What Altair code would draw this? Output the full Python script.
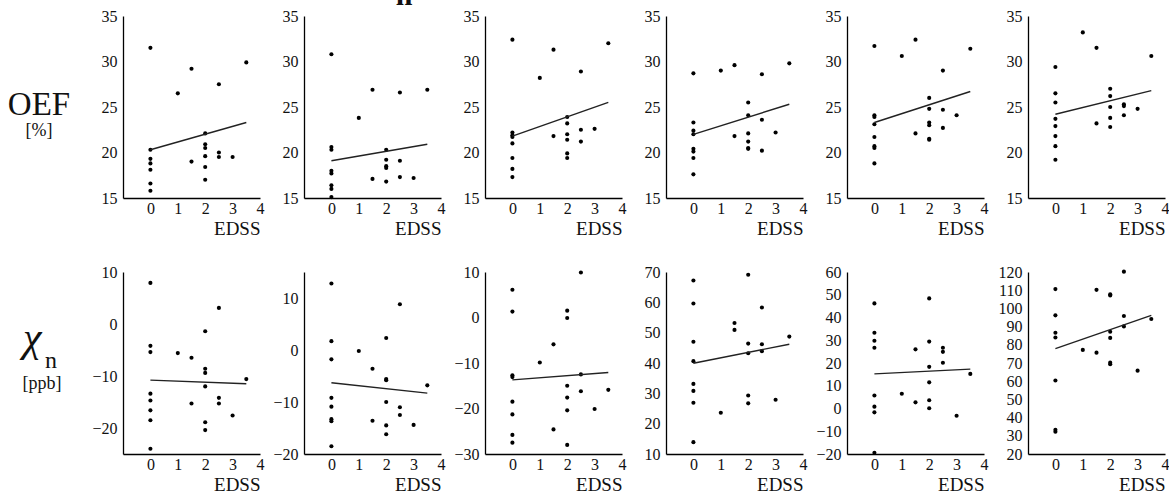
import altair as alt
import pandas as pd

FONT = "Liberation Serif"
X_TITLE = "EDSS"
X_TICKS = [0, 1, 2, 3, 4]
X_DOMAIN = [-1, 4]
FIT_X = [0, 3.5]

ROW_NAMES = ["OEF", "χ"]
ROW_SUBS = ["", "n"]
ROW_UNITS = ["[%]", "[ppb]"]
TOP_FRAGMENT = "n"

# ---- Row 1: OEF [%] ----
oef_x1 = [0, 0, 0, 0, 0, 0, 0, 1, 1.5, 1.5, 2, 2, 2, 2, 2, 2, 2.5, 2.5, 2.5, 3, 3.5]
oef_y1 = [31.5, 20.3, 19.3, 18.8, 18.1, 16.6, 15.8, 26.5, 29.2, 19.0, 22.1, 20.9, 20.5, 19.6, 18.4, 17.0, 27.5, 20.0, 19.5, 19.5, 29.9]
oef_x2 = [0, 0, 0, 0, 0, 0, 0, 0, 1, 1.5, 1.5, 2, 2, 2, 2, 2, 2.5, 2.5, 2.5, 3, 3.5]
oef_y2 = [30.8, 20.6, 20.3, 18.0, 17.7, 16.4, 16.0, 15.1, 23.8, 26.9, 17.1, 20.3, 19.2, 18.5, 18.3, 16.8, 26.6, 19.1, 17.3, 17.2, 26.9]
oef_x3 = [0, 0, 0, 0, 0, 0, 0, 0, 1, 1.5, 1.5, 2, 2, 2, 2, 2, 2, 2.5, 2.5, 2.5, 3, 3.5]
oef_y3 = [32.4, 22.2, 21.9, 21.7, 21.0, 19.4, 18.2, 17.3, 28.2, 31.3, 21.8, 23.9, 23.2, 22.0, 21.4, 19.9, 19.4, 28.9, 22.5, 21.2, 22.6, 32.0]
oef_x4 = [0, 0, 0, 0, 0, 0, 0, 0, 1, 1.5, 1.5, 2, 2, 2, 2, 2, 2, 2.5, 2.5, 2.5, 3, 3.5]
oef_y4 = [28.7, 23.3, 22.4, 22.0, 20.4, 20.1, 19.4, 17.6, 29.0, 29.6, 21.8, 25.5, 24.1, 22.1, 21.2, 20.5, 20.4, 28.6, 23.6, 20.2, 22.2, 29.8]
oef_x5 = [0, 0, 0, 0, 0, 0, 0, 0, 1, 1.5, 1.5, 2, 2, 2, 2, 2, 2, 2.5, 2.5, 2.5, 3, 3.5]
oef_y5 = [31.7, 24.1, 23.9, 23.1, 21.7, 20.7, 20.5, 18.8, 30.6, 32.4, 22.1, 26.0, 24.8, 23.3, 23.0, 21.5, 21.4, 29.0, 24.7, 22.7, 24.1, 31.4]
oef_x6 = [0, 0, 0, 0, 0, 0, 0, 0, 1, 1.5, 1.5, 2, 2, 2, 2, 2, 2.5, 2.5, 2.5, 3, 3.5]
oef_y6 = [29.4, 26.5, 25.5, 23.7, 22.9, 21.8, 20.7, 19.2, 33.2, 31.5, 23.2, 27.0, 26.2, 25.0, 23.8, 22.8, 25.3, 25.1, 24.1, 24.8, 30.6]
oef_fit = [[20.3, 23.3], [19.1, 20.9], [21.8, 25.5], [22.0, 25.3], [23.3, 26.7], [24.2, 26.8]]
oef_domains = [[15, 35]] * 6
oef_ticks = [[15, 20, 25, 30, 35]] * 6

# ---- Row 2: chi_n [ppb] ----
chi_x1 = [0, 0, 0, 0, 0, 0, 0, 0, 1, 1.5, 1.5, 2, 2, 2, 2, 2, 2, 2.5, 2.5, 2.5, 3, 3.5]
chi_y1 = [7.9, -4.2, -5.4, -13.4, -14.7, -16.6, -18.5, -24.0, -5.6, -6.5, -15.3, -1.4, -8.6, -9.4, -12.0, -18.9, -20.4, 3.1, -14.2, -15.3, -17.6, -10.6]
chi_x2 = [0, 0, 0, 0, 0, 0, 0, 0, 1, 1.5, 1.5, 2, 2, 2, 2, 2, 2, 2.5, 2.5, 2.5, 3, 3.5]
chi_y2 = [12.8, 1.7, -1.8, -9.2, -10.9, -13.3, -13.7, -18.5, -0.2, -3.6, -13.6, 2.3, -5.6, -5.8, -10.0, -14.5, -16.2, 8.8, -11.0, -12.5, -14.4, -6.8]
chi_x3 = [0, 0, 0, 0, 0, 0, 0, 0, 1, 1.5, 1.5, 2, 2, 2, 2, 2, 2, 2.5, 2.5, 2.5, 3, 3.5]
chi_y3 = [6.1, 1.3, -12.7, -13.1, -18.5, -21.3, -25.8, -27.5, -9.9, -5.9, -24.6, 1.5, -0.1, -15.0, -17.6, -20.4, -28.0, 9.9, -12.5, -16.2, -20.1, -15.9]
chi_x4 = [0, 0, 0, 0, 0, 0, 0, 0, 1, 1.5, 1.5, 2, 2, 2, 2, 2, 2.5, 2.5, 2.5, 3, 3.5]
chi_y4 = [67.2, 59.6, 47.0, 40.6, 33.1, 30.8, 26.9, 13.9, 23.6, 53.2, 50.9, 69.1, 46.4, 43.2, 29.3, 26.7, 58.3, 46.2, 43.9, 27.9, 48.7]
chi_x5 = [0, 0, 0, 0, 0, 0, 0, 0, 1, 1.5, 1.5, 2, 2, 2, 2, 2, 2, 2.5, 2.5, 2.5, 3, 3.5]
chi_y5 = [46.2, 33.3, 29.8, 26.7, 5.7, 0.8, -1.7, -19.5, 6.5, 26.0, 2.7, 48.4, 29.4, 18.3, 11.5, 3.6, 0.1, 26.7, 24.9, 20.1, -3.2, 15.2]
chi_x6 = [0, 0, 0, 0, 0, 0, 0, 1, 1.5, 1.5, 2, 2, 2, 2, 2, 2, 2.5, 2.5, 2.5, 3, 3.5]
chi_y6 = [110.6, 96.2, 86.6, 84.0, 60.4, 33.3, 32.2, 77.2, 110.2, 75.7, 107.8, 107.1, 87.2, 83.8, 70.2, 69.3, 120.2, 95.8, 90.1, 65.8, 94.2]
chi_fit = [[-10.8, -11.5], [-6.3, -8.3], [-13.7, -12.1], [39.9, 46.2], [15.2, 17.3], [77.9, 96.2]]
chi_domains = [[-25, 10], [-20, 15], [-30, 10], [10, 70], [-20, 60], [20, 120]]
chi_ticks = [
    [-20, -10, 0, 10],
    [-20, -10, 0, 10],
    [-30, -20, -10, 0, 10],
    [10, 20, 30, 40, 50, 60, 70],
    [-20, -10, 0, 10, 20, 30, 40, 50, 60],
    [20, 30, 40, 50, 60, 70, 80, 90, 100, 110, 120],
]

ROWS = [
    ([oef_x1, oef_x2, oef_x3, oef_x4, oef_x5, oef_x6],
     [oef_y1, oef_y2, oef_y3, oef_y4, oef_y5, oef_y6], oef_fit, oef_domains, oef_ticks),
    ([chi_x1, chi_x2, chi_x3, chi_x4, chi_x5, chi_x6],
     [chi_y1, chi_y2, chi_y3, chi_y4, chi_y5, chi_y6], chi_fit, chi_domains, chi_ticks),
]

PW, PH = 137, 182
LABEL_W = 79
INK = "#111111"


def panel(xs, ys, fit, dom, ticks):
    pts = pd.DataFrame({"EDSS": xs, "v": ys})
    fit_df = pd.DataFrame({"EDSS": FIT_X, "v": fit})
    xsc = alt.Scale(domain=X_DOMAIN, nice=False, zero=False)
    ysc = alt.Scale(domain=dom, nice=False, zero=False)
    xax = alt.Axis(values=X_TICKS, title=X_TITLE, titleAnchor="end", titleAlign="right",
                   labelPadding=2, titlePadding=3, format="d")
    yax = alt.Axis(values=ticks, title=None, labelPadding=6, format="d")
    p = alt.Chart(pts).mark_circle(size=17, color="black", opacity=1).encode(
        x=alt.X("EDSS:Q", scale=xsc, axis=xax),
        y=alt.Y("v:Q", scale=ysc, axis=yax),
    )
    ln = alt.Chart(fit_df).mark_line(color="#222222", strokeWidth=1.4).encode(
        x=alt.X("EDSS:Q", scale=xsc, axis=xax),
        y=alt.Y("v:Q", scale=ysc, axis=yax),
    )
    return alt.layer(p, ln).properties(width=PW, height=PH)


one = pd.DataFrame({"k": [0]})


def txt(t, x, y, size, align="center", weight="normal", clip=False, style="normal"):
    return alt.Chart(one).mark_text(
        text=t, font=FONT, fontSize=size, align=align, baseline="alphabetic",
        color=INK, fontWeight=weight, clip=clip, fontStyle=style,
    ).encode(x=alt.value(x), y=alt.value(y))


label_row1 = alt.layer(
    txt(ROW_NAMES[0], 39, 99, 33),
    txt(ROW_UNITS[0], 39, 120, 18),
).properties(width=LABEL_W, height=PH)

label_row2 = alt.layer(
    txt(ROW_NAMES[1], 23, 79, 42, align="left", style="italic"),
    txt(ROW_SUBS[1], 45, 96, 24, align="left"),
    txt(ROW_UNITS[1], 42, 117, 18),
).properties(width=LABEL_W, height=PH)

labels = [label_row1, label_row2]

cells = []
for r, (xs_list, ys_list, fits, doms, ticks) in enumerate(ROWS):
    cells.append(labels[r])
    for i in range(6):
        cells.append(panel(xs_list[i], ys_list[i], fits[i], doms[i], ticks[i]))

grid = alt.concat(*cells, columns=7, spacing={"row": 74, "column": 44}, bounds="flush")

header = txt(TOP_FRAGMENT, 404, 5, 30, weight="bold", clip=True).properties(width=1165, height=8)

chart = alt.vconcat(header, grid, spacing=0).properties(
    padding={"left": 0, "top": 0, "right": 0, "bottom": 0}
).configure_view(strokeWidth=0).configure_axis(
    grid=False, ticks=False, domainColor="black", domainWidth=1.3,
    labelFont=FONT, labelFontSize=16, labelColor=INK, labelFlush=False, labelOverlap=False,
    titleFont=FONT, titleFontSize=19, titleFontWeight="normal", titleColor=INK,
)

chart.save("out.html", embed_options={"renderer": "svg", "actions": False})
